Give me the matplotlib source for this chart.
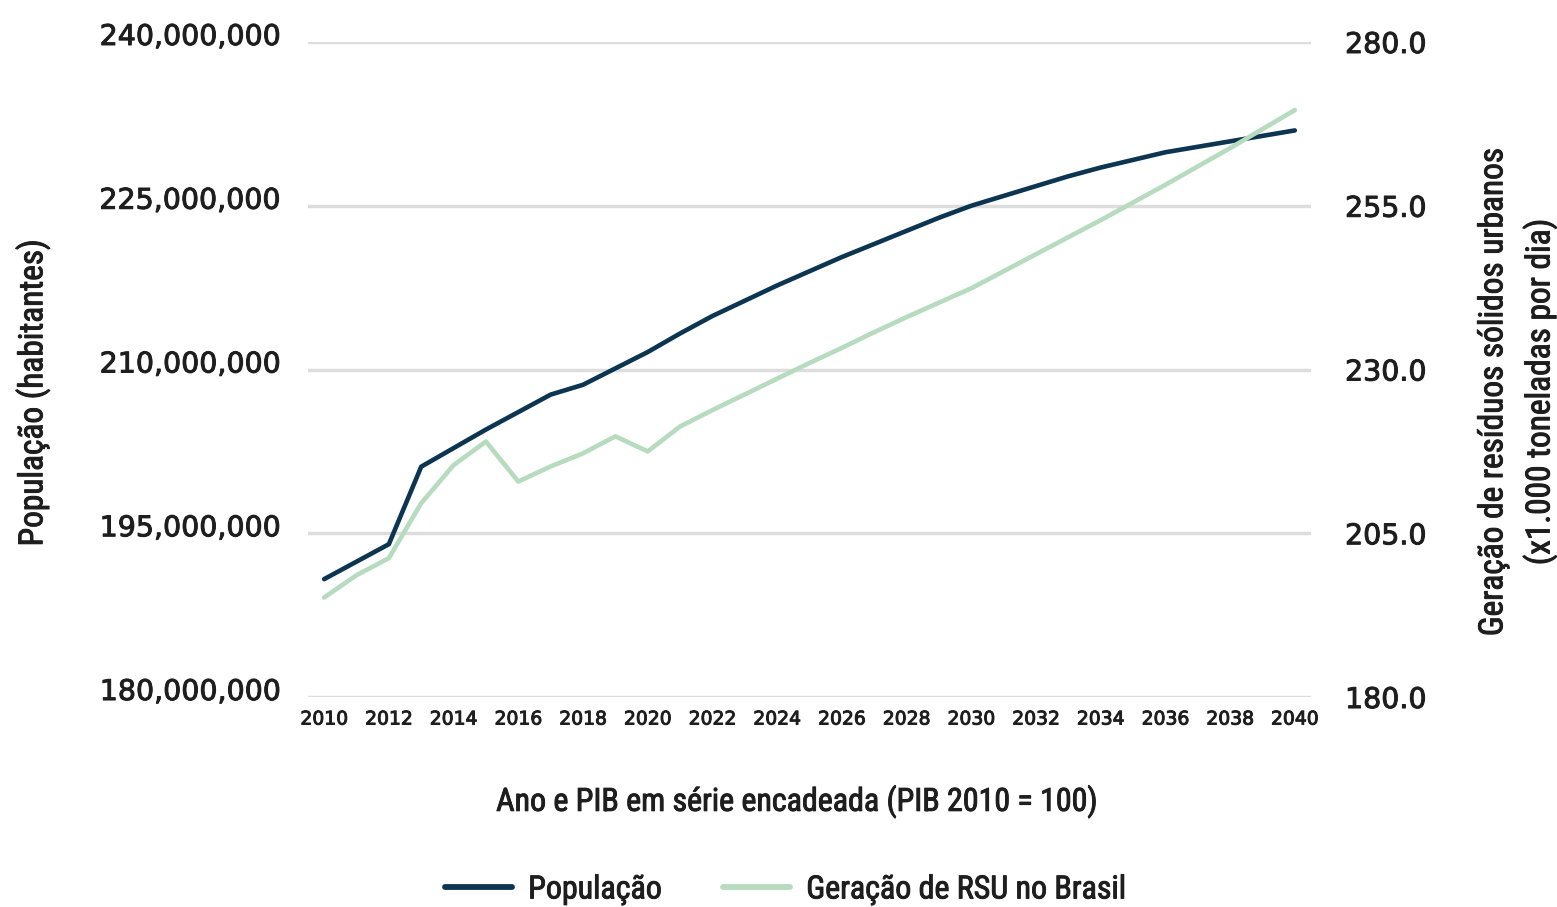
import matplotlib.pyplot as plt
import matplotlib.transforms as mtransforms
import matplotlib.patheffects as pe
from matplotlib.ticker import FuncFormatter

years = list(range(2010, 2041))

# população (habitantes)
populacao = [190.8, 192.4, 194.0, 201.1, 202.8, 204.5, 206.1, 207.7, 208.6, 210.1,
             211.6, 213.3, 214.9, 216.3, 217.7, 219.0, 220.3, 221.5, 222.7, 223.9,
             225.0, 225.9, 226.8, 227.7, 228.5, 229.2, 229.9, 230.4, 230.9, 231.4,
             231.9]
populacao = [v * 1e6 for v in populacao]

# geração de RSU (x1.000 t/dia)
rsu = [195.2, 198.6, 201.2, 209.6, 215.4, 219.0, 212.9, 215.2, 217.2, 219.8,
       217.5, 221.3, 223.8, 226.2, 228.6, 231.0, 233.3, 235.7, 238.0, 240.2,
       242.4, 245.0, 247.6, 250.2, 252.8, 255.5, 258.2, 261.0, 263.8, 266.7,
       269.6]

left_ticks = [180e6, 195e6, 210e6, 225e6, 240e6]
right_ticks = [180, 205, 230, 255, 280]
x_ticks = list(range(2010, 2041, 2))

dark = '#0c3552'
green = '#b6dbbe'
txt = '#1e1e1e'
narrow = ['Roboto Condensed', 'DejaVu Sans']
lab = dict(family=narrow, stretch='condensed', color=txt)
# a thin outline makes the regular weight look a bit heavier, like the original
heavy = [pe.withStroke(linewidth=0.7, foreground=txt)]

fig = plt.figure(figsize=(15.57, 9.07), dpi=100)
ax = fig.add_axes([0.1978, 0.2315, 0.6442, 0.7222])
ax2 = ax.twinx()

ax.set_xlim(2009.5, 2040.5)
ax.set_ylim(180e6, 240e6)
ax2.set_ylim(180, 280)

for y in left_ticks:
    ax.axhline(y, color='#dddddd', lw=2.5, zorder=0)

l1, = ax.plot(years, populacao, color=dark, lw=3.3, solid_capstyle='round', zorder=3)
l2, = ax2.plot(years, rsu, color=green, lw=3.3, solid_capstyle='round', zorder=2)

ax.set_yticks(left_ticks)
ax.yaxis.set_major_formatter(FuncFormatter(lambda v, p: f'{v:,.0f}'))
ax2.set_yticks(right_ticks)
ax2.yaxis.set_major_formatter(FuncFormatter(lambda v, p: f'{v:.1f}'))
ax.set_xticks(x_ticks)

ax.tick_params(axis='y', length=0, labelsize=20.5, labelcolor=txt, pad=19.5)
ax2.tick_params(axis='y', length=0, labelsize=20.5, labelcolor=txt, pad=24.5)
ax.tick_params(axis='x', length=0, labelsize=13.5, labelcolor=txt, pad=9)

# left labels sit a little above their gridlines
shift = mtransforms.ScaledTranslation(0, 0.08, fig.dpi_scale_trans)
for t in ax.get_yticklabels():
    t.set_transform(t.get_transform() + shift)

for t in ax.get_yticklabels() + ax2.get_yticklabels() + ax.get_xticklabels():
    t.set_path_effects(heavy)

for a in (ax, ax2):
    for s in a.spines.values():
        s.set_visible(False)

fig.text(0.021, 0.567, 'População (habitantes)', rotation=90, ha='center', va='center',
         fontsize=24, path_effects=heavy, **lab)
fig.text(0.959, 0.568, 'Geração de resíduos sólidos urbanos', rotation=90, ha='center',
         va='center', fontsize=24, path_effects=heavy, **lab)
fig.text(0.989, 0.568, '(x1.000 toneladas por dia)', rotation=90, ha='center',
         va='center', fontsize=24, path_effects=heavy, **lab)
fig.text(0.5125, 0.116, 'Ano e PIB em série encadeada (PIB 2010 = 100)', ha='center',
         va='center', fontsize=23, path_effects=heavy, **lab)

leg = fig.legend([l1, l2], ['População', 'Geração de RSU no Brasil'], loc='center',
                 bbox_to_anchor=(0.505, 0.019), ncol=2, frameon=False,
                 prop={'family': narrow, 'stretch': 'condensed', 'size': 23},
                 handlelength=2.1, columnspacing=1.9, handletextpad=0.5)
for t in leg.get_texts():
    t.set_color(txt)
    t.set_path_effects(heavy)
for h in leg.get_lines():
    h.set_linewidth(4.2)

fig.savefig('out.png', dpi=100)
